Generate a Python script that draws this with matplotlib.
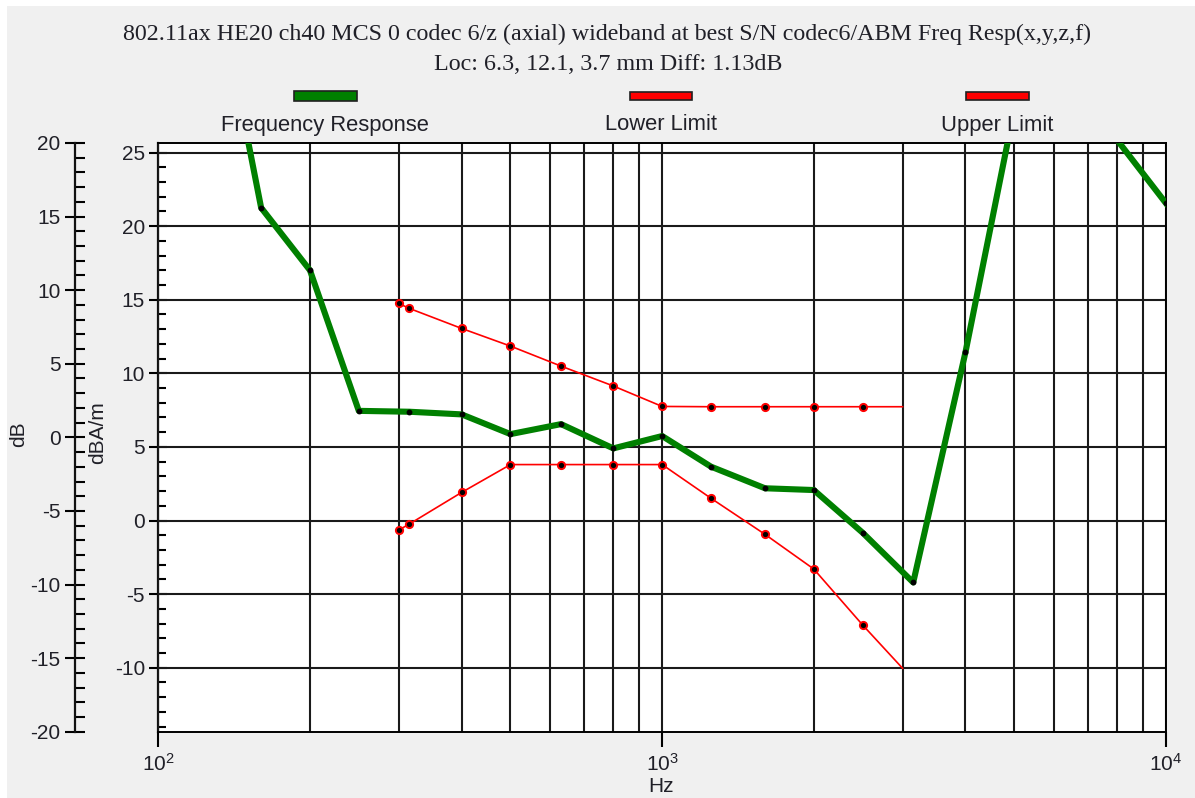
import matplotlib
matplotlib.use("Agg")
import matplotlib.pyplot as plt
from matplotlib.patches import Rectangle
from matplotlib.ticker import MultipleLocator, LogLocator, NullFormatter, FixedLocator, FixedFormatter

# ---------------- data ----------------
resp_hz = [125, 160, 200, 250, 315, 400, 500, 630, 800, 1000, 1250, 1600,
           2000, 2500, 3150, 4000, 5000, 6300, 8000, 10000]
resp_db = [34.3, 15.6, 11.35, 1.8, 1.74, 1.56, 0.22, 0.9, -0.75, 0.09, -1.99,
           -3.46, -3.58, -6.48, -9.86, 5.79, 22.3, 26.0, 20.2, 15.9]

upper_hz = [300, 315, 400, 500, 630, 800, 1000, 1250, 1600, 2000, 2500, 3000]
upper_db = [9.1, 8.76, 7.4, 6.2, 4.84, 3.49, 2.1, 2.08, 2.08, 2.08, 2.08, 2.08]

lower_hz = [300, 315, 400, 500, 630, 800, 1000, 1250, 1600, 2000, 2500, 3000]
lower_db = [-6.3, -5.89, -3.74, -1.85, -1.85, -1.85, -1.85, -4.14, -6.59,
            -8.95, -12.75, -15.69]

dbam_offset = 5.65           # dBA/m = dB + offset
dbam_ticks = [-10, -5, 0, 5, 10, 15, 20, 25]
x_ticks = [100, 1000, 10000]
x_ticklabels = [r"$\mathregular{10^{2}}$", r"$\mathregular{10^{3}}$", r"$\mathregular{10^{4}}$"]

title1 = "802.11ax HE20 ch40 MCS 0 codec 6/z (axial) wideband at best S/N codec6/ABM Freq Resp(x,y,z,f)"
title2 = "Loc: 6.3, 12.1, 3.7 mm Diff: 1.13dB"
legend_labels = ["Frequency Response", "Lower Limit", "Upper Limit"]

# ---------------- style ----------------
plt.rcParams["font.family"] = ["Liberation Sans", "DejaVu Sans"]
plt.rcParams["mathtext.fontset"] = "custom"
plt.rcParams["mathtext.rm"] = "Liberation Sans"
plt.rcParams["axes.unicode_minus"] = False
TXT = "#202028"
GRID = "#1a1a1a"
GREEN = "#008000"
RED = "#ff0000"

W, H = 1195, 798
fig = plt.figure(figsize=(W / 100, H / 100), dpi=100)
fig.patch.set_facecolor("white")
fig.patches.append(Rectangle((7 / W, 0), 1 - 7 / W, 1 - 6 / H, transform=fig.transFigure,
                             facecolor="#f0f0f0", edgecolor="none", zorder=-10))

left, right, top, bottom = 158.3, 1166.0, 143.0, 731.7
ax = fig.add_axes([left / W, 1 - bottom / H, (right - left) / W, (bottom - top) / H])
ax.set_facecolor("white")
ax.set_xscale("log")
ax.set_xlim(100, 10000)
ax.set_ylim(-20, 20)

# grid
ax.xaxis.set_major_locator(FixedLocator(x_ticks))
ax.xaxis.set_major_formatter(FixedFormatter(x_ticklabels))
ax.xaxis.set_minor_locator(LogLocator(base=10, subs=range(2, 10)))
ax.xaxis.set_minor_formatter(NullFormatter())
ax.grid(True, which="both", axis="x", color=GRID, lw=1.5, zorder=1)
for v in dbam_ticks:
    ax.axhline(v - dbam_offset, color=GRID, lw=1.5, zorder=1)
ax.set_axisbelow(True)

# data
ax.plot(resp_hz, resp_db, color=GREEN, lw=4.4, zorder=4, solid_joinstyle="round")
ax.plot(resp_hz, resp_db, ls="none", marker="o", ms=3.2, mfc="black", mec="black", zorder=5)
for hz, db in ((lower_hz, lower_db), (upper_hz, upper_db)):
    ax.plot(hz, db, color=RED, lw=1.2, zorder=3)
    ax.plot(hz[:-1], db[:-1], ls="none", marker="o", ms=5.2, mfc="black", mec=RED,
            mew=1.4, zorder=3.5)

# spines
for s in ("top", "right", "bottom"):
    ax.spines[s].set_color("black")
    ax.spines[s].set_linewidth(1.4)
ax.spines["left"].set_position(("outward", 60))
ax.spines["left"].set_linewidth(1.6)
ax.spines["left"].set_color("#111111")

# outer dB axis (main left axis)
ax.yaxis.set_major_locator(MultipleLocator(5))
ax.yaxis.set_minor_locator(MultipleLocator(1))
ax.tick_params(axis="y", which="major", direction="inout", length=15, width=1.5,
               labelsize=15, labelcolor=TXT, pad=3)
ax.tick_params(axis="y", which="minor", direction="in", length=7, width=1.5)
ax.tick_params(axis="x", which="major", direction="out", length=11, width=1.5,
               labelsize=15, labelcolor=TXT, pad=4)
ax.tick_params(axis="x", which="minor", length=0)

# inner dBA/m axis
sec = ax.secondary_yaxis("left", functions=(lambda d: d + dbam_offset, lambda a: a - dbam_offset))
sec.yaxis.set_major_locator(FixedLocator(dbam_ticks))
sec.yaxis.set_minor_locator(MultipleLocator(1))
sec.tick_params(axis="y", which="major", direction="inout", length=13, width=1.5,
                labelsize=15, labelcolor=TXT, pad=3)
sec.tick_params(axis="y", which="minor", direction="in", length=6, width=1.5)
sec.spines["left"].set_linewidth(1.6)
sec.spines["left"].set_color("#111111")

# axis labels
fig.text(18.5 / W, 1 - 434 / H, "dB", rotation=90, ha="center", va="center", fontsize=15, color=TXT)
fig.text(98 / W, 1 - 433 / H, "dBA/m", rotation=90, ha="center", va="center", fontsize=15, color=TXT)
fig.text(661 / W, 1 - 787 / H, "Hz", ha="center", va="center", fontsize=15, color=TXT)

# titles
fig.text(607 / W, 1 - 34 / H, title1, ha="center", va="center", fontsize=17.3,
         family=["Liberation Serif", "DejaVu Serif"], color=TXT)
fig.text(608 / W, 1 - 65 / H, title2, ha="center", va="center", fontsize=17.3,
         family=["Liberation Serif", "DejaVu Serif"], color=TXT)

# legend
legend_specs = [(325, GREEN, 10), (661, RED, 7), (997, RED, 7)]
for (cx, col, hgt), lab in zip(legend_specs, legend_labels):
    fig.patches.append(Rectangle(((cx - 31.5) / W, 1 - (96 + hgt / 2) / H), 63 / W, hgt / H,
                                 transform=fig.transFigure, facecolor=col,
                                 edgecolor="#202020", lw=1.2))
    fig.text(cx / W, 1 - 125 / H, lab, ha="center", va="center", fontsize=15.8, color=TXT)

fig.savefig("out.png", dpi=100, facecolor=fig.get_facecolor())
